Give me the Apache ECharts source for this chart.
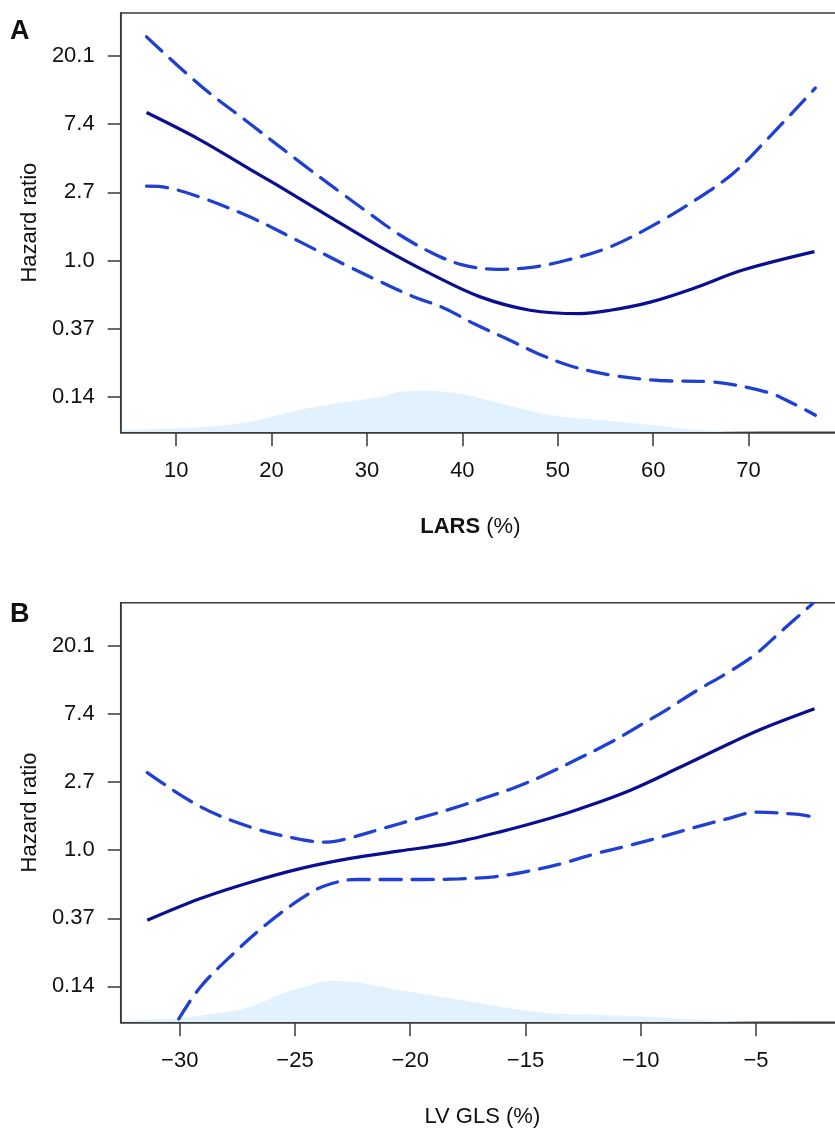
<!DOCTYPE html>
<html>
<head>
<meta charset="utf-8">
<script src="https://cdn.jsdelivr.net/npm/echarts@6/dist/echarts.min.js"></script>
<style>
  html, body { margin: 0; padding: 0; background: #fff; overflow: hidden; }
  #main { width: 835px; height: 1128px; }
</style>
</head>
<body>
<div id="main"></div>
<script>
// ---- data (hazard ratios stored as natural log, ln(HR)) ----
// panel A: LARS (%)
var larsFitX = [6.9, 12.5, 17.7, 20.9, 26.1, 31.4, 36.6, 41.8, 47.1, 52.3, 55.5, 59.7, 64.2, 69.4, 76.9];
var larsFitLogHR = [2.17, 1.77, 1.34, 1.08, 0.64, 0.20, -0.19, -0.53, -0.73, -0.78, -0.73, -0.61, -0.41, -0.14, 0.13];
var larsUpX = [6.9, 12.5, 17.7, 22.9, 27.6, 30.6, 33.5, 36.7, 39.9, 43.6, 47.2, 50.8, 55.5, 60.7, 64.9, 68.4, 71.9, 77.0];
var larsUpLogHR = [3.28, 2.57, 2.01, 1.45, 0.96, 0.655, 0.37, 0.12, -0.06, -0.13, -0.10, 0.0, 0.20, 0.57, 0.93, 1.28, 1.77, 2.53];
var larsLoX = [6.9, 9.0, 12.5, 17.7, 22.9, 28.1, 31.4, 34.7, 38.1, 41.4, 44.7, 48.0, 51.2, 55.5, 60.7, 66.0, 71.9, 74.7, 77.0];
var larsLoLogHR = [1.09, 1.07, 0.93, 0.64, 0.28, -0.09, -0.31, -0.52, -0.70, -0.94, -1.15, -1.37, -1.54, -1.68, -1.76, -1.78, -1.93, -2.10, -2.27];
var larsDensX = [4.2, 12.5, 17.7, 22.9, 26.4, 31.6, 33.4, 36.2, 40.4, 43.9, 49.2, 54.4, 59.6, 64.9, 70.1, 80.0];
var larsDens = [0.0014, 0.003, 0.0063, 0.0133, 0.0169, 0.0212, 0.0242, 0.0248, 0.0223, 0.0173, 0.0103, 0.0073, 0.0044, 0.0014, 0.0004, 0];
var larsTicks = [10, 20, 30, 40, 50, 60, 70];

// panel B: LV GLS (%)
var glsFitX = [-31.41, -29.10, -26.93, -24.77, -22.6, -20.44, -18.27, -16.1, -13.93, -12.63, -10.47, -8.3, -6.14, -4.7, -2.46];
var glsFitLogHR = [-1.03, -0.71, -0.47, -0.27, -0.12, -0.01, 0.10, 0.27, 0.47, 0.61, 0.88, 1.22, 1.57, 1.79, 2.08];
var glsUpX = [-31.41, -29.10, -26.93, -24.77, -23.6, -22.63, -21.19, -19.74, -18.30, -16.85, -15.48, -14.15, -11.34, -10.11, -8.81, -7.56, -6.28, -5.10, -3.9, -2.53];
var glsUpLogHR = [1.14, 0.64, 0.34, 0.16, 0.12, 0.18, 0.32, 0.46, 0.60, 0.76, 0.92, 1.11, 1.58, 1.82, 2.08, 2.35, 2.60, 2.86, 3.22, 3.63];
var glsLoX = [-30.04, -29.10, -27.67, -26.21, -24.77, -23.76, -22.34, -20.84, -19.4, -17.87, -16.36, -14.92, -13.47, -12.06, -10.5, -9.06, -7.61, -6.17, -4.98, -3.25, -2.67];
var glsLoLogHR = [-2.48, -2.01, -1.52, -1.08, -0.72, -0.53, -0.43, -0.43, -0.43, -0.42, -0.39, -0.31, -0.20, -0.06, 0.07, 0.20, 0.34, 0.47, 0.56, 0.53, 0.50];
var glsDensX = [-32.5, -30.11, -28.38, -26.94, -25.49, -24.05, -23.34, -21.88, -20.43, -18.26, -16.09, -13.93, -11.76, -9.6, -7.43, -5.26, -1.2];
var glsDens = [0.0019, 0.0048, 0.0107, 0.0186, 0.0346, 0.0465, 0.0496, 0.0457, 0.0382, 0.0286, 0.0186, 0.0107, 0.0087, 0.0067, 0.0027, 0.0007, 0];
var glsTicks = [-30, -25, -20, -15, -10, -5];

// y ticks: ln(HR) positions and the printed hazard ratios
var hrTickPos = [-2, -1, 0, 1, 2, 3];
var hrTickLabels = ['0.14', '0.37', '1.0', '2.7', '7.4', '20.1'];

function pairs(xs, ys) {
  return xs.map(function (x, i) { return [x, ys[i]]; });
}

var FONT = '"Liberation Sans", Arial, Helvetica, sans-serif';
var AXIS_COLOR = '#3a3a3a';
var FIT_COLOR = '#0a0f8f';
var CI_COLOR = '#1f40d0';
var DENS_COLOR = '#e1f1fd';

function makeX(gridIndex, min, max, ticks, name, rich) {
  return {
    gridIndex: gridIndex,
    type: 'value',
    min: min,
    max: max,
    z: 10, // axis line drawn over the density shading
    axisLine: { show: true, onZero: false, lineStyle: { color: AXIS_COLOR, width: 1.5 } },
    axisTick: { show: true, customValues: ticks, length: 14, lineStyle: { color: AXIS_COLOR, width: 1.5 } },
    axisLabel: {
      customValues: ticks, margin: 28, fontSize: 22, color: '#111', fontFamily: FONT,
      formatter: function (v) { return String(v).replace('-', '\u2212'); }
    },
    splitLine: { show: false },
    name: name,
    nameLocation: 'middle',
    nameGap: 84,
    nameTextStyle: { fontSize: 22, color: '#111', fontFamily: FONT, rich: rich, padding: rich ? [0, 24, 0, 0] : 0 }
  };
}

function makeY(gridIndex, min, max) {
  return {
    gridIndex: gridIndex,
    type: 'value',
    min: min,
    max: max,
    z: 10,
    axisLine: { show: true, onZero: false, lineStyle: { color: AXIS_COLOR, width: 1.5 } },
    axisTick: { show: true, customValues: hrTickPos, length: 13, lineStyle: { color: AXIS_COLOR, width: 1.5 } },
    axisLabel: {
      customValues: hrTickPos, margin: 26, fontSize: 22, color: '#111', fontFamily: FONT,
      formatter: function (v) { return hrTickLabels[hrTickPos.indexOf(Math.round(v))]; }
    },
    splitLine: { show: false },
    name: 'Hazard ratio',
    nameLocation: 'middle',
    nameGap: 80,
    nameTextStyle: { fontSize: 22, color: '#111', fontFamily: FONT }
  };
}

function densY(gridIndex, max) {
  return { gridIndex: gridIndex, type: 'value', min: 0, max: max, show: false };
}

function line(xi, yi, data, color, dashed) {
  return {
    type: 'line',
    xAxisIndex: xi,
    yAxisIndex: yi,
    data: data,
    smooth: 0.35,
    showSymbol: false,
    silent: true,
    z: 3,
    lineStyle: dashed
      ? { color: color, width: 3.3, type: [21, 11], cap: 'round' }
      : { color: color, width: 3.2 }
  };
}

function dens(xi, yi, data) {
  return {
    type: 'line',
    xAxisIndex: xi,
    yAxisIndex: yi,
    data: data,
    smooth: 0.35,
    showSymbol: false,
    silent: true,
    z: 1,
    lineStyle: { width: 0, opacity: 0 },
    areaStyle: { color: DENS_COLOR, opacity: 1, origin: 'start' }
  };
}

var chart = echarts.init(document.getElementById('main'), null, { renderer: 'canvas' });

var option = {
  animation: false,
  backgroundColor: '#fff',
  textStyle: { fontFamily: FONT },
  // plot frame runs past the right edge of the page, as in the original
  grid: [
    { left: 120.7, width: 723.3, top: 13, height: 419.3, outerBoundsMode: 'none', containLabel: false,
      show: true, borderColor: AXIS_COLOR, borderWidth: 1.5 },
    { left: 120.7, width: 723.3, top: 602.7, height: 419.6, outerBoundsMode: 'none', containLabel: false,
      show: true, borderColor: AXIS_COLOR, borderWidth: 1.5 }
  ],
  xAxis: [
    makeX(0, 4.19, 80.0, larsTicks, '{b|LARS} (%)', { b: { fontWeight: 'bold', fontSize: 22, fontFamily: FONT, color: '#111' } }),
    makeX(1, -32.56, -1.18, glsTicks, 'LV GLS (%)', null)
  ],
  yAxis: [
    makeY(0, -2.52, 3.63),
    densY(0, 0.25),
    makeY(1, -2.53, 3.64),
    densY(1, 0.5)
  ],
  graphic: [
    { type: 'text', left: 10, top: 18, style: { text: 'A', font: 'bold 27px ' + FONT, fill: '#111' } },
    { type: 'text', left: 10, top: 601, style: { text: 'B', font: 'bold 27px ' + FONT, fill: '#111' } }
  ],
  series: [
    dens(0, 1, pairs(larsDensX, larsDens)),
    line(0, 0, pairs(larsUpX, larsUpLogHR), CI_COLOR, true),
    line(0, 0, pairs(larsLoX, larsLoLogHR), CI_COLOR, true),
    line(0, 0, pairs(larsFitX, larsFitLogHR), FIT_COLOR, false),
    dens(1, 3, pairs(glsDensX, glsDens)),
    line(1, 2, pairs(glsUpX, glsUpLogHR), CI_COLOR, true),
    line(1, 2, pairs(glsLoX, glsLoLogHR), CI_COLOR, true),
    line(1, 2, pairs(glsFitX, glsFitLogHR), FIT_COLOR, false)
  ]
};

chart.setOption(option);
window.addEventListener('resize', function () {
  chart.resize();
});
</script>
</body>
</html>
